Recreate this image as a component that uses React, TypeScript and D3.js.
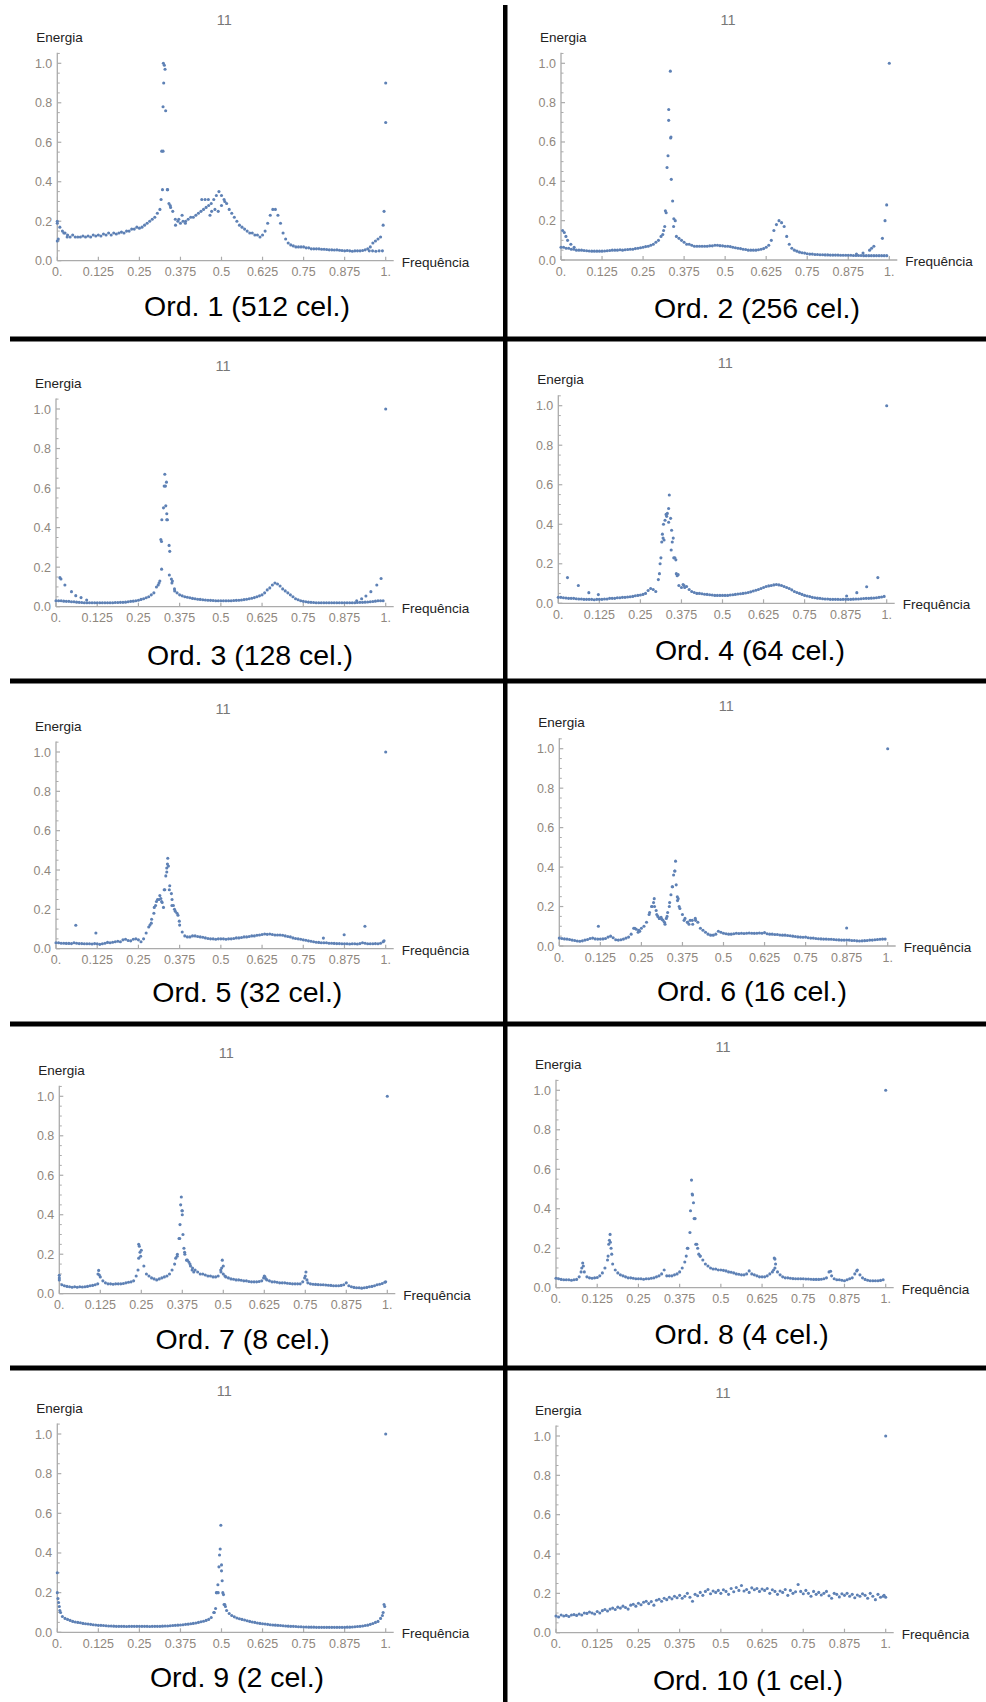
import React from "react";
import * as d3 from "d3";

// ---------- tick / label data ----------
const xTickValues = [0, 0.125, 0.25, 0.375, 0.5, 0.625, 0.75, 0.875, 1];
const xTickLabels = ["0.", "0.125", "0.25", "0.375", "0.5", "0.625", "0.75", "0.875", "1."];
const yTickValues = [0, 0.2, 0.4, 0.6, 0.8, 1.0];
const yTickLabels = ["0.0", "0.2", "0.4", "0.6", "0.8", "1.0"];
const yMinorValues = [0.05, 0.1, 0.15, 0.25, 0.3, 0.35, 0.45, 0.5, 0.55, 0.65, 0.7, 0.75, 0.85, 0.9, 0.95, 1.05];
const plotTitle = "11";
const yAxisLabel = "Energia";
const xAxisLabel = "Frequência";
const panelCaptions = [
  "Ord. 1 (512 cel.)", "Ord. 2 (256 cel.)", "Ord. 3 (128 cel.)", "Ord. 4 (64 cel.)",
  "Ord. 5 (32 cel.)", "Ord. 6 (16 cel.)", "Ord. 7 (8 cel.)", "Ord. 8 (4 cel.)",
  "Ord. 9 (2 cel.)", "Ord. 10 (1 cel.)",
];

// ---------- series: energy sampled at frequency i/128 ----------
const ord1 = [
  0.19, 0.17, 0.15, 0.14, 0.13, 0.12, 0.13, 0.12,
  0.12, 0.12, 0.125, 0.12, 0.125, 0.12, 0.13, 0.125,
  0.13, 0.125, 0.135, 0.13, 0.14, 0.13, 0.14, 0.135,
  0.14, 0.145, 0.14, 0.15, 0.15, 0.16, 0.16, 0.17,
  0.165, 0.17, 0.18, 0.19, 0.2, 0.21, 0.22, 0.24,
  0.26, 0.36, 0.97, 0.36, 0.28, 0.25, 0.21, 0.2,
  0.19, 0.2, 0.2, 0.21, 0.22, 0.22, 0.23, 0.24,
  0.25, 0.26, 0.27, 0.28, 0.29, 0.31, 0.33, 0.35,
  0.33, 0.31, 0.29, 0.26, 0.24, 0.22, 0.2, 0.18,
  0.17, 0.16, 0.15, 0.14, 0.14, 0.13, 0.13, 0.12,
  0.13, 0.15, 0.19, 0.23, 0.26, 0.26, 0.23, 0.19,
  0.14, 0.11, 0.09, 0.08, 0.075, 0.07, 0.07, 0.07,
  0.07, 0.065, 0.065, 0.06, 0.06, 0.06, 0.06, 0.058,
  0.058, 0.057, 0.055, 0.055, 0.054, 0.055, 0.053, 0.052,
  0.05, 0.052, 0.05, 0.048, 0.05, 0.05, 0.05, 0.052,
  0.055, 0.06, 0.07, 0.09, 0.1, 0.11, 0.12, 0.18,
  0.9,
];
const ord1Extra: [number, number][] = [
  [0.323, 1.0], [0.326, 0.99], [0.324, 0.9], [0.322, 0.78], [0.33, 0.76], [0.318, 0.555], [0.322, 0.555],
  [0.335, 0.36], [0.316, 0.31], [0.34, 0.29], [0.345, 0.27], [1.0, 0.7], [0.995, 0.25], [0.95, 0.05],
  [0.96, 0.05], [0.97, 0.048], [0.98, 0.05], [0.99, 0.05], [0.0, 0.2], [0.0, 0.1], [0.003, 0.11],
  [0.44, 0.31], [0.45, 0.31], [0.46, 0.31], [0.465, 0.23], [0.47, 0.25], [0.48, 0.26], [0.49, 0.25],
  [0.36, 0.18], [0.37, 0.21], [0.38, 0.23], [0.39, 0.19], [0.5, 0.28], [0.51, 0.3], [0.02, 0.14], [0.03, 0.12],
];

const ord2 = [
  0.065, 0.065, 0.06, 0.06, 0.055, 0.055, 0.05, 0.05,
  0.05, 0.048, 0.047, 0.046, 0.045, 0.045, 0.045, 0.045,
  0.045, 0.046, 0.047, 0.048, 0.05, 0.05, 0.05, 0.052,
  0.05, 0.052, 0.053, 0.055, 0.055, 0.058, 0.06, 0.062,
  0.065, 0.068, 0.07, 0.075, 0.08, 0.09, 0.1, 0.12,
  0.15, 0.24, 0.765, 0.41, 0.21, 0.12, 0.11, 0.1,
  0.09, 0.08, 0.08, 0.075, 0.07, 0.07, 0.07, 0.07,
  0.07, 0.07, 0.072, 0.072, 0.075, 0.075, 0.073, 0.072,
  0.07, 0.07, 0.068, 0.065, 0.062, 0.06, 0.058, 0.055,
  0.053, 0.05, 0.05, 0.05, 0.05, 0.052, 0.055, 0.058,
  0.065, 0.075, 0.1, 0.15, 0.18, 0.2, 0.19, 0.17,
  0.12, 0.08, 0.06, 0.05, 0.045, 0.04, 0.037, 0.035,
  0.032, 0.03, 0.03, 0.028, 0.028, 0.027, 0.027, 0.026,
  0.026, 0.025, 0.025, 0.025, 0.025, 0.024, 0.024, 0.024,
  0.024, 0.024, 0.023, 0.023, 0.023, 0.023, 0.022, 0.022,
  0.022, 0.022, 0.022, 0.022, 0.022, 0.022, 0.022, 0.022,
  1.0,
];
const ord2Extra: [number, number][] = [
  [0.316, 0.17], [0.323, 0.47], [0.326, 0.53], [0.328, 0.71], [0.333, 0.96], [0.334, 0.62], [0.335, 0.625],
  [0.34, 0.3], [0.343, 0.17], [0.348, 0.2], [0.31, 0.13], [0.318, 0.25],
  [0.005, 0.15], [0.01, 0.14], [0.015, 0.12], [0.02, 0.1], [0.03, 0.08], [0.04, 0.065],
  [0.9, 0.03], [0.92, 0.035], [0.94, 0.05], [0.946, 0.06], [0.953, 0.07], [0.979, 0.11], [0.987, 0.2], [0.992, 0.28],
];

const ord3 = [
  0.03, 0.03, 0.03, 0.028, 0.027, 0.027, 0.025, 0.025,
  0.023, 0.022, 0.021, 0.02, 0.02, 0.02, 0.02, 0.02,
  0.02, 0.02, 0.02, 0.02, 0.02, 0.02, 0.02, 0.021,
  0.021, 0.022, 0.022, 0.023, 0.025, 0.027, 0.028, 0.03,
  0.033, 0.037, 0.04, 0.045, 0.05, 0.06, 0.07, 0.1,
  0.12, 0.19, 0.61, 0.44, 0.16, 0.12, 0.09, 0.07,
  0.06, 0.055, 0.05, 0.048, 0.045, 0.042, 0.04, 0.038,
  0.037, 0.035, 0.034, 0.033, 0.032, 0.031, 0.03, 0.03,
  0.03, 0.03, 0.03, 0.03, 0.03, 0.031, 0.032, 0.033,
  0.034, 0.036, 0.038, 0.04, 0.043, 0.046, 0.05, 0.055,
  0.06, 0.07, 0.085, 0.095, 0.11, 0.12, 0.115, 0.105,
  0.09, 0.08, 0.07, 0.06, 0.05, 0.04, 0.035, 0.03,
  0.027, 0.025, 0.023, 0.022, 0.021, 0.02, 0.02, 0.02,
  0.02, 0.02, 0.02, 0.02, 0.02, 0.02, 0.02, 0.02,
  0.02, 0.02, 0.02, 0.02, 0.02, 0.021, 0.022, 0.022,
  0.023, 0.024, 0.025, 0.026, 0.028, 0.03, 0.03, 0.03,
  1.0,
];
const ord3Extra: [number, number][] = [
  [0.318, 0.34], [0.32, 0.33], [0.321, 0.44], [0.326, 0.5], [0.33, 0.67], [0.332, 0.61], [0.335, 0.63],
  [0.333, 0.51], [0.336, 0.47], [0.338, 0.44], [0.343, 0.31], [0.345, 0.28], [0.31, 0.11], [0.315, 0.13],
  [0.35, 0.14], [0.353, 0.13], [0.36, 0.08],
  [0.012, 0.147], [0.015, 0.14], [0.027, 0.11], [0.047, 0.076], [0.06, 0.056], [0.076, 0.046], [0.093, 0.034],
  [0.912, 0.03], [0.927, 0.04], [0.94, 0.054], [0.955, 0.076], [0.973, 0.11], [0.986, 0.143],
];

const ord4 = [
  0.03, 0.03, 0.028, 0.027, 0.025, 0.025, 0.025, 0.023,
  0.022, 0.022, 0.02, 0.02, 0.02, 0.02, 0.018, 0.02,
  0.02, 0.02, 0.022, 0.022, 0.025, 0.025, 0.025, 0.028,
  0.028, 0.03, 0.03, 0.032, 0.033, 0.035, 0.038, 0.04,
  0.042, 0.045, 0.05, 0.065, 0.075, 0.07, 0.06, 0.12,
  0.23, 0.4, 0.45, 0.48, 0.27, 0.23, 0.15, 0.09,
  0.08, 0.09, 0.085, 0.07, 0.06, 0.055, 0.05, 0.05,
  0.048, 0.046, 0.045, 0.043, 0.042, 0.04, 0.04, 0.04,
  0.04, 0.04, 0.04, 0.042, 0.043, 0.045, 0.047, 0.048,
  0.05, 0.052, 0.055, 0.058, 0.062, 0.066, 0.07, 0.075,
  0.08, 0.085, 0.088, 0.09, 0.093, 0.095, 0.093, 0.09,
  0.085, 0.08, 0.075, 0.068, 0.06, 0.055, 0.05, 0.045,
  0.04, 0.037, 0.034, 0.03, 0.028, 0.026, 0.025, 0.023,
  0.022, 0.022, 0.02, 0.02, 0.02, 0.02, 0.019, 0.02,
  0.02, 0.02, 0.02, 0.021, 0.022, 0.022, 0.023, 0.024,
  0.025, 0.025, 0.026, 0.027, 0.028, 0.03, 0.032, 0.035,
  1.0,
];
const ord4Extra: [number, number][] = [
  [0.315, 0.31], [0.317, 0.35], [0.319, 0.33], [0.322, 0.32], [0.325, 0.42], [0.33, 0.44], [0.332, 0.455],
  [0.336, 0.41], [0.338, 0.548], [0.342, 0.43], [0.345, 0.37], [0.347, 0.31], [0.35, 0.33], [0.355, 0.23],
  [0.358, 0.22], [0.362, 0.14], [0.365, 0.145], [0.308, 0.15], [0.31, 0.2], [0.38, 0.095], [0.385, 0.08],
  [0.028, 0.13], [0.061, 0.09], [0.093, 0.054], [0.122, 0.044],
  [0.878, 0.037], [0.909, 0.054], [0.939, 0.084], [0.973, 0.13],
];

const ord5 = [
  0.03, 0.03, 0.028, 0.028, 0.027, 0.027, 0.026, 0.03,
  0.028, 0.026, 0.026, 0.025, 0.025, 0.025, 0.024, 0.026,
  0.025, 0.022, 0.025, 0.028, 0.032, 0.03, 0.033, 0.035,
  0.038, 0.035, 0.045, 0.048, 0.042, 0.04, 0.048, 0.05,
  0.045, 0.035, 0.05, 0.08, 0.11, 0.13, 0.18, 0.24,
  0.25, 0.24, 0.3, 0.41, 0.3, 0.22, 0.2, 0.18,
  0.12, 0.085, 0.065, 0.06, 0.06, 0.065, 0.065, 0.062,
  0.06, 0.058, 0.055, 0.052, 0.05, 0.05, 0.048, 0.05,
  0.05, 0.05, 0.048, 0.05, 0.05, 0.052, 0.055, 0.055,
  0.057, 0.06, 0.06, 0.062, 0.065, 0.065, 0.068, 0.07,
  0.072, 0.075, 0.073, 0.075, 0.072, 0.07, 0.07, 0.07,
  0.068, 0.065, 0.062, 0.06, 0.055, 0.052, 0.05, 0.048,
  0.045, 0.043, 0.04, 0.038, 0.035, 0.033, 0.032, 0.03,
  0.03, 0.03, 0.028, 0.028, 0.027, 0.026, 0.026, 0.025,
  0.025, 0.025, 0.024, 0.025, 0.025, 0.024, 0.026, 0.03,
  0.028, 0.025, 0.025, 0.025, 0.026, 0.025, 0.028, 0.035,
  1.0,
];
const ord5Extra: [number, number][] = [
  [0.298, 0.21], [0.302, 0.22], [0.308, 0.25], [0.315, 0.27], [0.318, 0.255], [0.322, 0.235], [0.326, 0.21],
  [0.33, 0.3], [0.333, 0.37], [0.336, 0.39], [0.338, 0.43], [0.339, 0.46], [0.341, 0.42], [0.345, 0.32],
  [0.35, 0.28], [0.352, 0.25], [0.356, 0.22], [0.362, 0.19], [0.37, 0.17], [0.374, 0.14], [0.29, 0.15],
  [0.285, 0.12], [0.06, 0.119], [0.121, 0.08], [0.811, 0.054], [0.874, 0.071], [0.937, 0.114], [0.995, 0.04],
];

const ord6 = [
  0.04, 0.038, 0.036, 0.035, 0.033, 0.03, 0.028, 0.025,
  0.024, 0.026, 0.03, 0.033, 0.038, 0.04, 0.036, 0.035,
  0.035, 0.036, 0.038, 0.045, 0.05, 0.042, 0.032, 0.03,
  0.032, 0.035, 0.04, 0.045, 0.06, 0.09, 0.085, 0.08,
  0.09, 0.1, 0.12, 0.16, 0.2, 0.24, 0.16, 0.14,
  0.135, 0.12, 0.15, 0.22, 0.3, 0.38, 0.25, 0.19,
  0.16, 0.14, 0.12, 0.13, 0.11, 0.14, 0.12, 0.09,
  0.08, 0.07, 0.06, 0.055, 0.055, 0.06, 0.075, 0.07,
  0.065, 0.062, 0.06, 0.06, 0.062, 0.065, 0.063, 0.065,
  0.063, 0.065, 0.066, 0.065, 0.064, 0.065, 0.066, 0.065,
  0.068, 0.062, 0.06, 0.06, 0.058, 0.058, 0.056, 0.055,
  0.055, 0.053, 0.052, 0.05, 0.048, 0.046, 0.045, 0.044,
  0.045, 0.042, 0.04, 0.04, 0.038, 0.037, 0.036, 0.035,
  0.035, 0.034, 0.034, 0.033, 0.032, 0.031, 0.03, 0.03,
  0.03, 0.03, 0.028, 0.028, 0.026, 0.025, 0.026, 0.027,
  0.028, 0.03, 0.03, 0.032, 0.033, 0.034, 0.035, 0.035,
  1.0,
];
const ord6Extra: [number, number][] = [
  [0.287, 0.22], [0.29, 0.2], [0.295, 0.18], [0.3, 0.15], [0.305, 0.14], [0.31, 0.145], [0.316, 0.13],
  [0.322, 0.11], [0.326, 0.14], [0.33, 0.17], [0.335, 0.2], [0.34, 0.26], [0.345, 0.3], [0.348, 0.36],
  [0.352, 0.38], [0.354, 0.43], [0.356, 0.31], [0.36, 0.23], [0.362, 0.24], [0.365, 0.2], [0.275, 0.17],
  [0.282, 0.2], [0.23, 0.09], [0.24, 0.07], [0.245, 0.075],
  [0.38, 0.13], [0.39, 0.12], [0.395, 0.11], [0.405, 0.13], [0.415, 0.13],
  [0.119, 0.1], [0.875, 0.091],
];

const ord7 = [
  0.07, 0.045, 0.04, 0.037, 0.035, 0.033, 0.035, 0.033,
  0.035, 0.034, 0.035, 0.037, 0.04, 0.042, 0.045, 0.05,
  0.085, 0.065, 0.055, 0.05, 0.05, 0.048, 0.05, 0.05,
  0.05, 0.052, 0.055, 0.058, 0.06, 0.065, 0.09, 0.18,
  0.22, 0.14, 0.1, 0.09, 0.08, 0.075, 0.07, 0.075,
  0.08, 0.085, 0.09, 0.1, 0.12, 0.15, 0.19, 0.28,
  0.42, 0.2, 0.17, 0.15, 0.13, 0.12, 0.11, 0.1,
  0.1, 0.095, 0.09, 0.09, 0.085, 0.085, 0.09, 0.12,
  0.1, 0.085, 0.08, 0.075, 0.073, 0.07, 0.07, 0.068,
  0.065, 0.065, 0.062, 0.06, 0.06, 0.06, 0.062, 0.065,
  0.09, 0.07, 0.065, 0.06, 0.06, 0.058, 0.055, 0.055,
  0.055, 0.053, 0.052, 0.05, 0.05, 0.05, 0.05, 0.06,
  0.09, 0.055, 0.05, 0.048, 0.047, 0.046, 0.045, 0.045,
  0.044, 0.043, 0.042, 0.04, 0.04, 0.04, 0.042, 0.045,
  0.055, 0.04, 0.035, 0.032, 0.03, 0.03, 0.028, 0.03,
  0.032, 0.035, 0.037, 0.04, 0.045, 0.048, 0.052, 0.058,
  1.0,
];
const ord7Extra: [number, number][] = [
  [0.242, 0.25], [0.244, 0.24], [0.246, 0.21], [0.248, 0.19], [0.24, 0.12], [0.12, 0.118], [0.118, 0.1],
  [0.122, 0.095], [0.0, 0.093], [0.0, 0.08],
  [0.365, 0.28], [0.368, 0.35], [0.37, 0.45], [0.372, 0.49], [0.374, 0.42], [0.375, 0.4], [0.377, 0.3],
  [0.38, 0.23], [0.382, 0.21], [0.36, 0.2], [0.355, 0.18], [0.388, 0.17], [0.395, 0.16], [0.4, 0.14],
  [0.405, 0.12], [0.41, 0.11],
  [0.497, 0.17], [0.495, 0.13], [0.493, 0.11], [0.5, 0.14], [0.505, 0.09],
  [0.623, 0.08], [0.627, 0.085], [0.63, 0.075], [0.752, 0.11], [0.748, 0.08], [0.755, 0.07], [0.995, 0.06],
];

const ord8 = [
  0.048, 0.045, 0.042, 0.04, 0.04, 0.04, 0.038, 0.04,
  0.042, 0.055, 0.1, 0.08, 0.055, 0.05, 0.048, 0.05,
  0.052, 0.06, 0.075, 0.1, 0.14, 0.27, 0.12, 0.09,
  0.075, 0.065, 0.06, 0.055, 0.05, 0.05, 0.048, 0.045,
  0.045, 0.045, 0.043, 0.045, 0.045, 0.048, 0.05, 0.055,
  0.06, 0.07, 0.09, 0.06, 0.06, 0.06, 0.065, 0.07,
  0.08, 0.1, 0.13, 0.2, 0.28, 0.47, 0.35, 0.2,
  0.16, 0.14, 0.12, 0.11, 0.1, 0.095, 0.095, 0.09,
  0.09, 0.088, 0.085, 0.08, 0.078, 0.075, 0.07, 0.068,
  0.065, 0.065, 0.07, 0.085, 0.07, 0.065, 0.06, 0.055,
  0.055, 0.055, 0.06, 0.07, 0.08, 0.145, 0.08, 0.065,
  0.055, 0.05, 0.05, 0.048, 0.046, 0.045, 0.045, 0.045,
  0.045, 0.044, 0.044, 0.043, 0.042, 0.042, 0.042, 0.043,
  0.045, 0.05, 0.08, 0.06, 0.045, 0.04, 0.04, 0.038,
  0.035, 0.04, 0.045, 0.05, 0.07, 0.09, 0.065, 0.05,
  0.042, 0.038, 0.035, 0.035, 0.035, 0.035, 0.037, 0.04,
  1.0,
];
const ord8Extra: [number, number][] = [
  [0.081, 0.125], [0.083, 0.11], [0.076, 0.08],
  [0.16, 0.22], [0.162, 0.24], [0.165, 0.23], [0.167, 0.2], [0.169, 0.17], [0.158, 0.16],
  [0.408, 0.39], [0.411, 0.545], [0.413, 0.475], [0.417, 0.43], [0.419, 0.35], [0.424, 0.22], [0.427, 0.22],
  [0.4, 0.2], [0.395, 0.16], [0.433, 0.17], [0.437, 0.16],
  [0.662, 0.15], [0.666, 0.12], [0.664, 0.1], [0.66, 0.09], [0.833, 0.083], [0.912, 0.085],
];

const ord9 = [
  0.2, 0.11, 0.08, 0.07, 0.065, 0.06, 0.055, 0.052,
  0.05, 0.048, 0.045, 0.043, 0.042, 0.04, 0.038, 0.037,
  0.035, 0.035, 0.034, 0.033, 0.032, 0.032, 0.031, 0.03,
  0.03, 0.03, 0.03, 0.029, 0.03, 0.03, 0.03, 0.03,
  0.03, 0.03, 0.03, 0.03, 0.029, 0.03, 0.03, 0.03,
  0.03, 0.031, 0.032, 0.032, 0.033, 0.034, 0.035, 0.036,
  0.037, 0.038, 0.04, 0.041, 0.043, 0.045, 0.047, 0.05,
  0.053, 0.056, 0.06, 0.065, 0.075, 0.1, 0.2, 0.33,
  0.31, 0.14, 0.11, 0.095, 0.085, 0.078, 0.072, 0.068,
  0.065, 0.062, 0.058, 0.055, 0.052, 0.05, 0.047, 0.045,
  0.043, 0.042, 0.04, 0.038, 0.037, 0.036, 0.035, 0.034,
  0.033, 0.032, 0.031, 0.03, 0.03, 0.029, 0.028, 0.028,
  0.027, 0.027, 0.026, 0.026, 0.026, 0.025, 0.025, 0.025,
  0.025, 0.025, 0.025, 0.025, 0.025, 0.025, 0.025, 0.025,
  0.025, 0.026, 0.026, 0.027, 0.028, 0.029, 0.03, 0.032,
  0.034, 0.036, 0.04, 0.044, 0.05, 0.055, 0.07, 0.1,
  1.0,
];
const ord9Extra: [number, number][] = [
  [0.486, 0.2], [0.489, 0.24], [0.49, 0.2], [0.494, 0.39], [0.496, 0.42], [0.498, 0.54], [0.5, 0.34],
  [0.502, 0.26], [0.504, 0.2], [0.506, 0.19], [0.51, 0.14], [0.512, 0.13], [0.482, 0.12], [0.478, 0.1],
  [0.0, 0.3], [0.002, 0.17], [0.004, 0.15], [0.006, 0.13], [0.01, 0.1],
  [0.995, 0.14], [0.997, 0.13], [0.99, 0.085],
];

const ord10 = [
  0.085, 0.08, 0.09, 0.085, 0.088, 0.082, 0.09, 0.092,
  0.088, 0.095, 0.09, 0.1, 0.098, 0.105, 0.1, 0.095,
  0.108, 0.1, 0.112, 0.118, 0.11, 0.12, 0.125, 0.118,
  0.13, 0.125, 0.135, 0.128, 0.12, 0.14, 0.145, 0.135,
  0.15, 0.142, 0.155, 0.16, 0.148, 0.158, 0.14, 0.165,
  0.17, 0.16, 0.175, 0.168, 0.18, 0.172, 0.185, 0.178,
  0.19, 0.175, 0.185, 0.2, 0.18, 0.16, 0.195, 0.188,
  0.205, 0.19, 0.21, 0.22, 0.198, 0.212, 0.205, 0.215,
  0.2, 0.218, 0.21, 0.195, 0.225, 0.208, 0.23, 0.215,
  0.24, 0.212, 0.22, 0.205, 0.228, 0.218, 0.225, 0.21,
  0.222, 0.215, 0.225, 0.2, 0.218, 0.21, 0.195, 0.212,
  0.205, 0.22, 0.19, 0.215, 0.2, 0.208, 0.245, 0.21,
  0.198, 0.215, 0.2, 0.185, 0.21, 0.195, 0.205, 0.192,
  0.2, 0.21, 0.188, 0.175, 0.2, 0.195, 0.182, 0.198,
  0.19, 0.2, 0.185, 0.195, 0.178, 0.192, 0.185, 0.198,
  0.19, 0.175, 0.2, 0.185, 0.168, 0.195, 0.18, 0.185,
  1.0,
];
const ord10Extra: [number, number][] = [[1.0, 0.18], [0.995, 0.19]];

const seriesList = [ord1, ord2, ord3, ord4, ord5, ord6, ord7, ord8, ord9, ord10];
const extraList = [ord1Extra, ord2Extra, ord3Extra, ord4Extra, ord5Extra, ord6Extra, ord7Extra, ord8Extra, ord9Extra, ord10Extra];

// ---------- layout (pixel positions of each panel's plot frame) ----------
const layout = [
  { x0: 57.3, x1: 385.7, y0: 260.7, y1: 63.3, lx: 247, ly: 306 },
  { x0: 561, x1: 889.3, y0: 260, y1: 63.3, lx: 757, ly: 308 },
  { x0: 56, x1: 385.7, y0: 606.7, y1: 409, lx: 250, ly: 655 },
  { x0: 558.3, x1: 886.7, y0: 603.3, y1: 405.7, lx: 750, ly: 650 },
  { x0: 56, x1: 385.7, y0: 948.7, y1: 752, lx: 247.3, ly: 992 },
  { x0: 559.3, x1: 887.7, y0: 946, y1: 748.7, lx: 752, ly: 991.3 },
  { x0: 59.3, x1: 387.3, y0: 1293.7, y1: 1096.3, lx: 242.7, ly: 1338.7 },
  { x0: 556, x1: 885.7, y0: 1287.7, y1: 1090.3, lx: 741.7, ly: 1333.7 },
  { x0: 57.3, x1: 385.7, y0: 1632.3, y1: 1434, lx: 237, ly: 1677 },
  { x0: 556, x1: 885.7, y0: 1632.7, y1: 1436, lx: 748, ly: 1680 },
];

const DOT = "#5E81B5";
const AXIS = "#ababab";
const TICKTXT = "#8f877e";
const FONT = "'Liberation Sans', Arial, sans-serif";

function Panel({ idx }: { idx: number }) {
  const L = layout[idx];
  const x = d3.scaleLinear().domain([0, 1]).range([L.x0, L.x1]);
  const y = d3.scaleLinear().domain([0, 1]).range([L.y0, L.y1]);
  const pts: [number, number][] = seriesList[idx].map((v, i) => [i / 128, v] as [number, number]).concat(extraList[idx]);
  return (
    <g>
      <text x={x(0) + 167} y={y(1) - 43} textAnchor="middle" dominantBaseline="central"
        fontFamily={FONT} fontSize={14.5} fill="#777">{plotTitle}</text>
      <text x={x(0) - 21} y={y(1) - 26} dominantBaseline="central"
        fontFamily={FONT} fontSize={13.5} fill="#222">{yAxisLabel}</text>
      <text x={x(1) + 16} y={y(0) + 1.5} dominantBaseline="central"
        fontFamily={FONT} fontSize={13.5} fill="#222">{xAxisLabel}</text>
      <line x1={x(0)} x2={x(1) + 8} y1={y(0)} y2={y(0)} stroke={AXIS} strokeWidth={1.3} />
      <line x1={x(0)} x2={x(0)} y1={y(0)} y2={y(1.053)} stroke={AXIS} strokeWidth={1.3} />
      {xTickValues.map((t, i) => (
        <g key={"xt" + i}>
          <line x1={x(t)} x2={x(t)} y1={y(0)} y2={y(0) - 4} stroke={AXIS} strokeWidth={1.2} />
          <text x={x(t)} y={y(0) + 11.5} textAnchor="middle" dominantBaseline="central"
            fontFamily={FONT} fontSize={12.5} fill={TICKTXT}>{xTickLabels[i]}</text>
        </g>
      ))}
      {yTickValues.map((t, i) => (
        <g key={"yt" + i}>
          <line x1={x(0)} x2={x(0) + 4} y1={y(t)} y2={y(t)} stroke={AXIS} strokeWidth={1.2} />
          <text x={x(0) - 5} y={y(t) + 0.5} textAnchor="end" dominantBaseline="central"
            fontFamily={FONT} fontSize={12.5} fill={TICKTXT}>{yTickLabels[i]}</text>
        </g>
      ))}
      {yMinorValues.map((t, i) => (
        <line key={"ym" + i} x1={x(0)} x2={x(0) + 2.5} y1={y(t)} y2={y(t)} stroke={AXIS} strokeWidth={1} />
      ))}
      {pts.map((p, i) => (
        <circle key={"p" + i} cx={x(p[0])} cy={y(p[1])} r={1.55} fill={DOT} />
      ))}
      <text x={L.lx} y={L.ly} textAnchor="middle" dominantBaseline="central"
        fontFamily={FONT} fontSize={28.5} fill="#000">{panelCaptions[idx]}</text>
    </g>
  );
}

export default function App() {
  const hLines = [339, 681, 1024, 1368];
  return (
    <svg width={986} height={1702} style={{ position: "absolute", left: 0, top: 0, background: "#fff" }}>
      <rect x={0} y={0} width={986} height={1702} fill="#fff" />
      {layout.map((_, i) => <Panel key={i} idx={i} />)}
      {hLines.map((yy, i) => (
        <rect key={"h" + i} x={10} y={yy - 2.5} width={976} height={5} fill="#000" />
      ))}
      <rect x={503} y={5} width={4.5} height={1697} fill="#000" />
    </svg>
  );
}
